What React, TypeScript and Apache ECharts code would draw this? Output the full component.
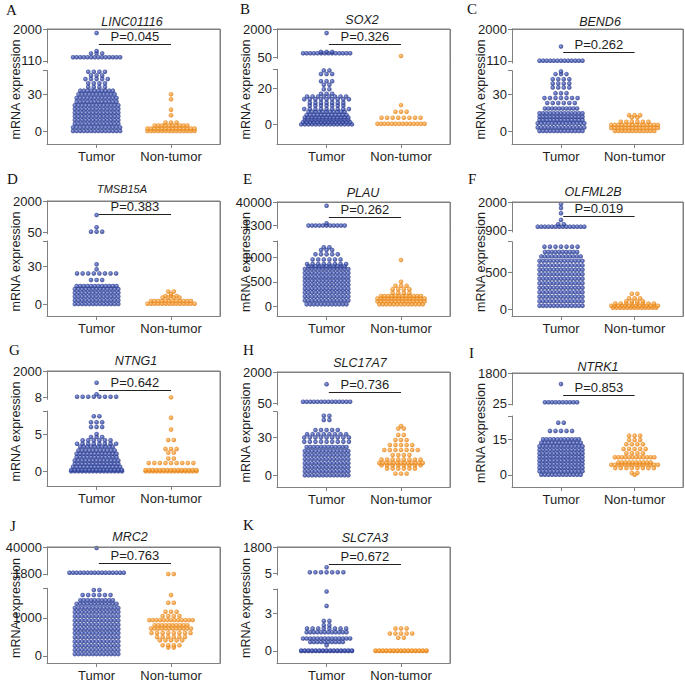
import React, { useEffect, useRef } from "react";
import * as echarts from "echarts";

type Row = [number, number]; // [mRNA expression level, number of samples at that level]

// ---------------- data ----------------
const categories = ["Tumor", "Non-tumor"];

const lincTumor: Row[] = [[0,14],[3,14],[6,13],[9,13],[12,13],[15,13],[18,13],[21,13],[24,12],[27,12],[30,11],[33,10],[36,4],[39,4],[42.5,5],[45.5,3],[48.5,4],[329,14],[560,3],[700,1],[1762,1]];
const lincNormal: Row[] = [[0,14],[2,14],[4.5,10],[7,3],[13,1],[17.5,1],[26,1],[30,1]];

const soxTumor: Row[] = [[0,15],[1.2,14],[2.5,13],[3.8,13],[5.2,12],[7,11],[8.5,9],[10.5,7],[12,7],[14,9],[15.5,8],[17,3],[19.5,2],[22,2],[24,3],[28,3],[30,2],[328,14],[420,3],[1720,1]];
const soxNormal: Row[] = [[0.3,14],[3.7,8],[7,3],[10.7,1],[140,1]];

const bendTumor: Row[] = [[0,13],[3,14],[6.3,14],[9,13],[11.7,13],[14.5,13],[18.5,10],[23,6],[27,7],[31,3],[35.7,4],[39,4],[42.5,4],[46.6,3],[48.8,1],[130,13],[966,1]];
const bendNormal: Row[] = [[0,12],[2.5,14],[5,14],[7.6,6],[11,2],[13,3]];

const tmsbTumor: Row[] = [[0,13],[3,13],[6,13],[9,13],[12,13],[14.5,12],[19.3,3],[24.6,8],[27.9,1],[31.9,1],[112,3],[382,1],[1139,1]];
const tmsbNormal: Row[] = [[0.3,14],[2.4,12],[5.2,4],[6.4,3],[8,1],[10,2]];

const plauTumor: Row[] = [[40,12],[120,13],[200,13],[280,13],[360,13],[440,13],[520,13],[600,13],[680,13],[760,13],[820,11],[863,8],[959,6],[1062,5],[1150,3],[1205,2],[1400,11],[5300,1],[33900,1]];
const plauNormal: Row[] = [[40,13],[100,14],[160,14],[210,12],[270,4],[350,4],[420,3],[500,1],[945,1]];

const olfTumor: Row[] = [[50,13],[110,13],[170,13],[230,13],[290,13],[350,13],[410,13],[470,13],[530,13],[590,13],[650,13],[710,12],[770,10],[840,7],[1055,14],[1148,2],[1314,1],[1573,1],[1767,1],[1922,1]];
const olfNormal: Row[] = [[25,13],[50,14],[80,8],[110,4],[150,3],[210,2]];

const ntngTumor: Row[] = [[0,15],[0.15,15],[0.6,14],[1.0,13],[1.45,13],[1.9,12],[2.35,12],[2.8,11],[3.3,10],[3.7,8],[4.15,6],[4.6,3],[5.0,1],[5.95,3],[6.6,3],[7.4,2],[83,8],[262,1],[1127,1]];
const ntngNormal: Row[] = [[0,15],[0.15,15],[1.1,9],[1.7,2],[2.5,2],[3.0,3],[4.2,2],[5.6,1],[7.2,1],[33,1]];

const slc17Tumor: Row[] = [[0,13],[3.2,13],[6.4,13],[9.6,13],[12.8,13],[16,13],[19.2,13],[22.4,12],[26.5,9],[30,9],[32.6,8],[35.8,5],[43.8,2],[47.2,2],[149,14],[1241,1]];
const slc17Normal: Row[] = [[1.3,3],[5.3,6],[8,8],[9.8,13],[12.5,8],[16,4],[20,7],[24,5],[28,3],[32,2],[37,2],[39,1]];

const ntrkTumor: Row[] = [[0,12],[1.5,13],[3,13],[4.5,13],[6,13],[7.5,13],[9,13],[10.5,13],[12,13],[13.5,12],[15,11],[18.5,5],[22,2],[123,10],[1164,1]];
const ntrkNormal: Row[] = [[0,1],[0.7,2],[2.8,8],[4.2,14],[5.2,10],[7.4,12],[9.1,4],[10.9,5],[12.9,4],[14.7,3],[16.5,3]];

const mrcTumor: Row[] = [[50,13],[160,13],[270,13],[380,13],[490,13],[600,13],[710,13],[820,13],[930,13],[1040,13],[1150,13],[1260,13],[1370,12],[1460,10],[1596,6],[1730,2],[3660,16],[38580,1]];
const mrcNormal: Row[] = [[220,2],[280,4],[410,5],[500,6],[605,8],[720,12],[805,10],[940,13],[1045,4],[1160,3],[1395,2],[1596,1],[1800,2]];

const slc7Tumor: Row[] = [[0,15],[0.04,15],[0.45,1],[0.72,10],[1.0,14],[1.5,12],[1.8,8],[2.06,2],[2.4,2],[3.6,1],[4.75,1],[74,7],[419,1]];
const slc7Normal: Row[] = [[0,15],[0.04,15],[1.05,2],[1.4,5],[1.8,3]];

// tick labels: [lower segment ticks], [upper segment ticks]
const lowerTicks: number[][] = [[0,30],[0,20],[0,30],[0,30],[0,500,1000],[0,500],[0,5],[0,30],[0,15],[0,1000],[0,3]];
const upperTicks: number[][] = [[110,2000],[50,2000],[110,2000],[50,2000],[1300,40000],[900,2000],[8,2000],[50,2000],[25,1800],[1800,40000],[5,1800]];
// axis ranges (lower segment, upper segment)
const lowerRange: number[][] = [[-10.6,49.5],[-10.9,30.6],[-10.6,49.4],[-9.65,50.7],[-199,1335],[-86,906],[-1.99,8.1],[-9.3,50.4],[-5.17,24.8],[-184,1774],[-0.96,4.95]];
const upperRange: number[][] = [[-9,2000],[-33.5,2000],[-9,2000],[-30,2000],[-3000,40000],[850,2000],[-111,2000],[-55,2000],[-33,1800],[369,40000],[-112,1800]];

const letters = ["A","B","C","D","E","F","G","H","I","J","K"];
const genes = ["LINC01116","SOX2","BEND6","TMSB15A","PLAU","OLFML2B","NTNG1","SLC17A7","NTRK1","MRC2","SLC7A3"];
const pValues = ["P=0.045","P=0.326","P=0.262","P=0.383","P=0.262","P=0.019","P=0.642","P=0.736","P=0.853","P=0.763","P=0.672"];
const pLevels = [1123, 955, 628, 1182, 15194, 1469, 582, 766, 545, 17112, 647];
const tumorRows = [lincTumor, soxTumor, bendTumor, tmsbTumor, plauTumor, olfTumor, ntngTumor, slc17Tumor, ntrkTumor, mrcTumor, slc7Tumor];
const normalRows = [lincNormal, soxNormal, bendNormal, tmsbNormal, plauNormal, olfNormal, ntngNormal, slc17Normal, ntrkNormal, mrcNormal, slc7Normal];

// ---------------- layout ----------------
const COLS = [{ left: 47, width: 173 }, { left: 277, width: 173 }, { left: 512, width: 171 }];
const NAME_X = [16, 246, 481];
const LAYOUT = [
  { col: 0, top: 29, ub: 63, lt: 70.5, bottom: 144, letter: [6, 10], title: [132, 22], ts: 12.5 },
  { col: 1, top: 29, ub: 58.5, lt: 69.3, bottom: 144, letter: [240, 8.5], title: [362, 20], ts: 12.5 },
  { col: 2, top: 29, ub: 63, lt: 70.7, bottom: 144, letter: [467, 9], title: [600, 21.5], ts: 12.5 },
  { col: 0, top: 201, ub: 234, lt: 241, bottom: 316, letter: [7, 179], title: [122, 189], ts: 11 },
  { col: 1, top: 202, ub: 228.3, lt: 241, bottom: 316, letter: [243, 179], title: [363, 193], ts: 12.5 },
  { col: 2, top: 202, ub: 232, lt: 241.7, bottom: 316, letter: [468, 178.5], title: [593, 192], ts: 12.5 },
  { col: 0, top: 371, ub: 399.3, lt: 411, bottom: 486, letter: [9, 350], title: [136, 361], ts: 12.5 },
  { col: 1, top: 372, ub: 405, lt: 411.7, bottom: 487, letter: [243, 350], title: [360, 362.5], ts: 12.5 },
  { col: 2, top: 373, ub: 405, lt: 416, bottom: 487, letter: [469, 352.5], title: [598, 367], ts: 12.5 },
  { col: 0, top: 547, ub: 575, lt: 588.3, bottom: 663, letter: [10, 526], title: [130, 537], ts: 12.5 },
  { col: 1, top: 547, ub: 575, lt: 589, bottom: 663, letter: [243, 525], title: [365, 538], ts: 12.5 },
];

const X_MIN = -0.666;
const X_MAX = 1.658;
const DX = 0.0487; // spacing of neighbouring dots in a dense row (axis units)
const DX_SPARSE = 0.075; // spacing in sparse rows

const FONT = "'Liberation Sans', Arial, Helvetica, sans-serif";
const SERIF = "'Liberation Serif', 'Times New Roman', serif";
const GRAY = "#808080";
const TEXT = "#1e1e1e";

const BLUE = new echarts.graphic.RadialGradient(0.42, 0.42, 0.6, [
  { offset: 0, color: "#93a2e2" },
  { offset: 0.4, color: "#3d51ad" },
  { offset: 1, color: "#22327f" },
]);
const ORANGE = new echarts.graphic.RadialGradient(0.42, 0.42, 0.6, [
  { offset: 0, color: "#ffd49a" },
  { offset: 0.4, color: "#f69a2e" },
  { offset: 1, color: "#dc7a12" },
]);

function spread(rows: Row[], center: number): number[][] {
  const pts: number[][] = [];
  rows.forEach(([v, n]) => {
    const d = n <= 9 ? DX_SPARSE : DX;
    for (let j = 0; j < n; j++) pts.push([center + (j - (n - 1) / 2) * d, v]);
  });
  return pts;
}

function buildOption() {
  const grid: any[] = [];
  const xAxis: any[] = [];
  const yAxis: any[] = [];
  const series: any[] = [];
  const graphic: any[] = [];
  const line = () => ({ show: true, onZero: false, lineStyle: { color: GRAY, width: 1 } });
  const labelBase = { color: TEXT, fontSize: 13, fontFamily: FONT };

  genes.forEach((gene, i) => {
    const L = LAYOUT[i];
    const C = COLS[L.col];
    const g = grid.length;
    grid.push({ left: C.left, top: L.top, width: C.width, height: L.ub - L.top });
    grid.push({ left: C.left, top: L.lt, width: C.width, height: L.bottom - L.lt });

    // upper segment
    xAxis.push({ gridIndex: g, type: "value", min: X_MIN, max: X_MAX, show: false });
    yAxis.push({
      gridIndex: g, type: "value", position: "left", min: upperRange[i][0], max: upperRange[i][1],
      axisLine: line(),
      axisTick: { show: true, length: 4, customValues: upperTicks[i], lineStyle: { color: GRAY } },
      axisLabel: { show: true, customValues: upperTicks[i], margin: 5, showMinLabel: true, showMaxLabel: true, formatter: (v: number) => String(v), ...labelBase },
      splitLine: { show: false },
    });

    // lower segment
    xAxis.push({
      gridIndex: g + 1, type: "value", position: "bottom", min: X_MIN, max: X_MAX,
      axisLine: line(),
      axisTick: { show: true, length: 4, customValues: [0, 1], lineStyle: { color: GRAY } },
      axisLabel: { show: true, customValues: [0, 1], margin: 6, formatter: (v: number) => categories[Math.round(v)], ...labelBase },
      splitLine: { show: false },
    });
    yAxis.push({
      gridIndex: g + 1, type: "value", position: "left", min: lowerRange[i][0], max: lowerRange[i][1],
      axisLine: line(),
      axisTick: { show: true, length: 4, customValues: [...lowerTicks[i], lowerRange[i][1]], lineStyle: { color: GRAY } },
      axisLabel: { show: true, customValues: lowerTicks[i], margin: 5, showMinLabel: true, showMaxLabel: true, formatter: (v: number) => String(v), ...labelBase },
      splitLine: { show: false },
    });

    const [uMin, uMax] = upperRange[i];
    const [lMin, lMax] = lowerRange[i];
    const frameStyle = { color: GRAY, width: 1, type: "solid" };

    // panel frame (top + right border), drawn with line series through the axes
    const lowerReach = lMax + ((L.lt - L.ub) / (L.bottom - L.lt)) * (lMax - lMin);
    series.push({
      type: "line", xAxisIndex: g, yAxisIndex: g, data: [[X_MIN, uMax], [X_MAX, uMax], [X_MAX, uMin]],
      symbol: "none", showSymbol: false, clip: false, silent: true, z: 4, lineStyle: frameStyle,
    });
    series.push({
      type: "line", xAxisIndex: g + 1, yAxisIndex: g + 1, data: [[X_MAX, lowerReach], [X_MAX, lMin]],
      symbol: "none", showSymbol: false, clip: false, silent: true, z: 4, lineStyle: frameStyle,
    });

    const split = lMax;
    const groups = [
      { rows: tumorRows[i], center: 0, color: BLUE, name: "Tumor" },
      { rows: normalRows[i], center: 1, color: ORANGE, name: "Non-tumor" },
    ];
    groups.forEach((grp, k) => {
      const pts = spread(grp.rows, grp.center);
      const lo = pts.filter((p) => p[1] <= split);
      const hi = pts.filter((p) => p[1] > split);
      const lower: any = {
        type: "scatter", name: grp.name, xAxisIndex: g + 1, yAxisIndex: g + 1, data: lo,
        symbolSize: 4.6, itemStyle: { color: grp.color }, silent: true, z: 3, clip: false,
      };
      const upper: any = {
        type: "scatter", name: grp.name, xAxisIndex: g, yAxisIndex: g, data: hi,
        symbolSize: 4.6, itemStyle: { color: grp.color }, silent: true, z: 3, clip: false,
      };
      if (k === 0) {
        upper.markLine = {
          silent: true, symbol: ["none", "none"],
          lineStyle: { color: "#222", width: 1, type: "solid" },
          label: { show: true, position: "insideMiddleTop", formatter: pValues[i], distance: 1, ...labelBase },
          emphasis: { disabled: true },
          data: [
            [{ coord: [0.03, pLevels[i]] }, { coord: [1, pLevels[i]] }],
            [{ coord: [X_MIN, uMax], lineStyle: frameStyle, label: { show: false } }, { coord: [X_MAX, uMax] }],
            [{ coord: [X_MAX, uMin], lineStyle: frameStyle, label: { show: false } }, { coord: [X_MAX, uMax] }],
          ],
        };
        lower.markLine = {
          silent: true, symbol: ["none", "none"],
          lineStyle: frameStyle,
          label: { show: false },
          emphasis: { disabled: true },
          data: [[{ coord: [X_MAX, lMin] }, { coord: [X_MAX, lMax] }]],
        };
      }
      series.push(lower);
      series.push(upper);
    });

    // frame outline as a graphic polyline as well (top + right edges)
    const x0 = Math.round(C.left) + 0.5;
    const x1 = Math.round(C.left + C.width) + 0.5;
    const y0 = Math.round(L.top) + 0.5;
    const y1 = Math.round(L.bottom) + 0.5;
    graphic.push({ type: "polyline", z: 50, shape: { points: [[x0, y0], [x1, y0], [x1, y1]] }, style: { stroke: GRAY, lineWidth: 1, fill: null } });

    graphic.push({ type: "text", x: L.letter[0], y: L.letter[1], style: { text: letters[i], font: `15px ${SERIF}`, fill: "#111", align: "left", verticalAlign: "middle" } });
    graphic.push({ type: "text", x: L.title[0], y: L.title[1], style: { text: gene, font: `italic ${L.ts}px ${FONT}`, fill: TEXT, align: "center", verticalAlign: "middle" } });
    graphic.push({ type: "text", x: NAME_X[L.col], y: (L.top + L.bottom) / 2 + 3, rotation: Math.PI / 2, style: { text: "mRNA expression", font: `12.5px ${FONT}`, fill: TEXT, align: "center", verticalAlign: "middle" } });
  });

  return { animation: false, backgroundColor: "#ffffff", grid, xAxis, yAxis, series, graphic };
}

export default function App() {
  const ref = useRef<HTMLDivElement>(null);
  useEffect(() => {
    document.body.style.margin = "0";
    if (!ref.current) return;
    const chart = echarts.init(ref.current, undefined, { renderer: "svg" });
    chart.setOption(buildOption() as any);
    return () => chart.dispose();
  }, []);
  return <div ref={ref} style={{ width: 685, height: 682, position: "absolute", left: 0, top: 0 }} />;
}
